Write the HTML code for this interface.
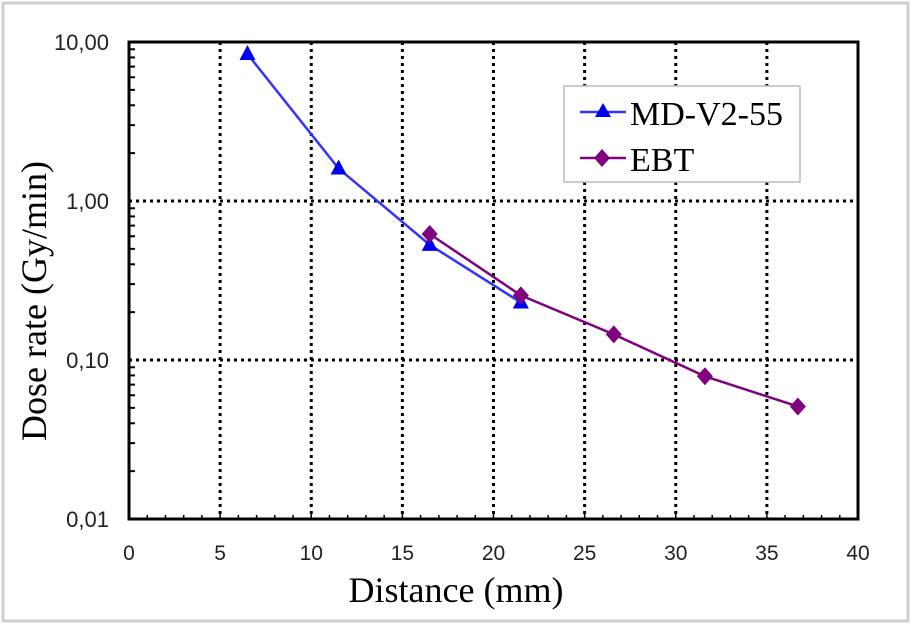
<!DOCTYPE html>
<html><head><meta charset="utf-8"><style>
html,body{margin:0;padding:0;background:#fff;width:912px;height:625px;overflow:hidden}
svg{display:block}
</style></head><body>
<svg id="chart" width="912" height="625" xmlns="http://www.w3.org/2000/svg">
<rect x="3" y="3" width="905" height="618" fill="#fff" stroke="#d0d0d0" stroke-width="3"/>
<g id="grid"></g>
<g id="axes"></g>
<g id="series"></g>
<text x="456" y="602" font-family="Liberation Serif, serif" font-size="36" text-anchor="middle">Distance (mm)</text>
<text transform="translate(46,301) rotate(-90)" font-family="Liberation Serif, serif" font-size="36" text-anchor="middle">Dose rate (Gy/min)</text>
<g>
<rect x="564" y="86" width="236" height="96" fill="#fff" stroke="#bbb" stroke-width="1.5"/>
<g>
<line x1="580" y1="112" x2="626" y2="112" stroke="#3333ff" stroke-width="2.5"/>
<polygon points="603,103 595,117 611,117" fill="#0000ee"/>
<text x="630" y="125" font-family="Liberation Serif, serif" font-size="34">MD-V2-55</text>
</g>
<g>
<line x1="580" y1="158" x2="626" y2="158" stroke="#800080" stroke-width="2.5"/>
<polygon points="602,149 610,158 602,167 594,158" fill="#800080"/>
<text x="630" y="171" font-family="Liberation Serif, serif" font-size="34">EBT</text>
</g>
</g>
</svg>
<script>
const xTicks=[0,5,10,15,20,25,30,35,40];
const yTicks=[0.01,0.1,1,10];
const yTickLabels=["0,01","0,10","1,00","10,00"];
const mdX=[6.5,11.5,16.5,21.5];
const mdY=[8.4,1.6,0.53,0.23];
const ebtX=[16.5,21.5,26.6,31.6,36.7];
const ebtY=[0.62,0.255,0.145,0.079,0.051];
const L=129,R=858,T=42,B=519;
const sx=v=>L+(v-0)/40*(R-L);
const sy=v=>B-(Math.log10(v)+2)/3*(B-T);
const NS="http://www.w3.org/2000/svg";
function mk(tag,attrs,parent){const e=document.createElementNS(NS,tag);for(const k in attrs)e.setAttribute(k,attrs[k]);parent.appendChild(e);return e;}
const grid=document.getElementById('grid'),axes=document.getElementById('axes'),ser=document.getElementById('series');
xTicks.forEach(t=>{if(t>0&&t<40){const l=mk('line',{x1:sx(t),x2:sx(t),y1:T,y2:B,stroke:'#000','stroke-width':3,'stroke-dasharray':'3,4'},grid);

}
const tx=mk('text',{x:sx(t),y:B+41,'font-family':'Liberation Sans, sans-serif','font-size':21,'text-anchor':'middle',fill:'#222'},axes);tx.textContent=t;

});
for(let u=1;u<40;u++){mk('line',{x1:sx(u),x2:sx(u),y1:B,y2:B-(u%5===0?7:4),stroke:'#000','stroke-width':1.5},axes);}
yTicks.forEach((t,i)=>{if(i>0&&i<3){const l=mk('line',{x1:L,x2:R,y1:sy(t),y2:sy(t),stroke:'#000','stroke-width':3,'stroke-dasharray':'3,4'},grid);

}
const tx=mk('text',{x:L-20,y:sy(t)+8,'font-family':'Liberation Sans, sans-serif','font-size':22,'text-anchor':'end',fill:'#222'},axes);tx.textContent=yTickLabels[i];


if(i<3){for(let m=2;m<=9;m++){const y=sy(t*m);mk('line',{x1:L,x2:L+6,y1:y,y2:y,stroke:'#000','stroke-width':2},axes);}}});
const fr=mk('rect',{x:L,y:T,width:R-L,height:B-T,fill:'none',stroke:'#000','stroke-width':3},axes);


function line(xs,ys,color,name){const p=mk('polyline',{points:xs.map((x,i)=>sx(x)+','+sy(ys[i])).join(' '),fill:'none',stroke:color,'stroke-width':2.5},ser);

}
line(mdX,mdY,'#3333ff','md-line');
line(ebtX,ebtY,'#800080','ebt-line');
mdX.forEach((x,i)=>{const cx=sx(x),cy=sy(mdY[i]);const m=mk('polygon',{points:`${cx},${cy-9} ${cx-8},${cy+6} ${cx+8},${cy+6}`,fill:'#0000ee'},ser);

});
ebtX.forEach((x,i)=>{const cx=sx(x),cy=sy(ebtY[i]);const m=mk('polygon',{points:`${cx},${cy-9} ${cx+8},${cy} ${cx},${cy+9} ${cx-8},${cy}`,fill:'#800080'},ser);

});
</script>
</body></html>
